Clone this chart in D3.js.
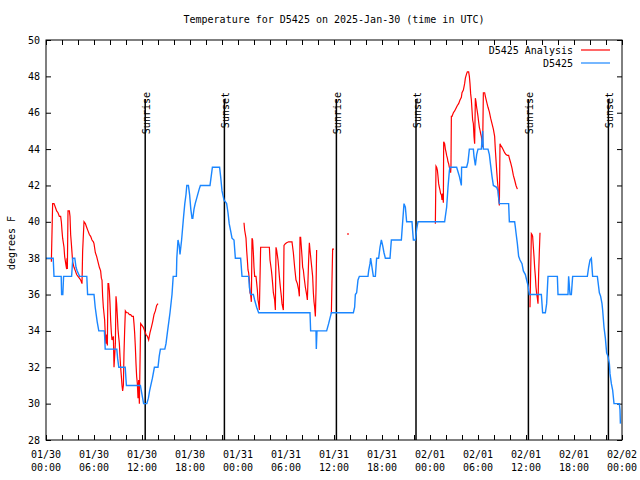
<!DOCTYPE html>
<html><head><meta charset="utf-8">
<script src="https://cdn.jsdelivr.net/npm/d3@7"></script>
<style>
html,body{margin:0;padding:0;background:#fff;}
svg{display:block;}
text{font-family:"DejaVu Sans Mono","Liberation Mono",monospace;font-size:10px;fill:#000;}
</style></head>
<body>
<svg id="chart" width="640" height="480"></svg>
<script>
// ---------- DATA ----------
const chartTitle = "Temperature for D5425 on 2025-Jan-30 (time in UTC)";
const yLabel = "degrees F";
const seriesNames = ["D5425 Analysis", "D5425"];
const yTicks = [28,30,32,34,36,38,40,42,44,46,48,50];
// hours since 2025-01-30 00:00 UTC
const sunHours  = [12.4, 22.3, 36.3, 46.25, 60.3, 70.3];
const sunLabels = ["Sunrise","Sunset","Sunrise","Sunset","Sunrise","Sunset"];

// observed D5425 (blue)
const obsHours = [0,0.9,1.0,1.9,1.95,2.1,2.2,3.2,3.35,3.6,3.75,3.9,4.2,5.1,5.2,6.0,6.15,6.4,6.6,7.3,7.4,8.85,8.95,9.1,9.9,10.05,11.8,12.0,12.2,12.6,12.8,12.95,13.1,13.3,13.55,14.0,14.15,14.3,14.85,15.0,15.2,15.35,15.5,15.75,15.9,16.3,16.35,16.5,16.65,16.75,16.95,17.2,17.35,17.5,17.6,17.8,17.95,18.1,18.25,18.35,18.5,18.65,18.9,19.15,19.3,20.5,20.65,20.8,21.7,21.85,22.0,22.25,22.58,22.75,22.9,23.08,23.25,23.5,23.67,24.33,24.5,25.33,25.42,25.58,25.92,26.08,26.33,26.58,33.0,33.08,33.75,33.79,33.87,35.08,35.33,35.5,35.67,38.42,38.58,38.67,38.83,39.0,39.17,40.25,40.33,40.5,40.58,40.75,40.92,41.17,41.25,41.33,41.58,41.75,41.92,42.08,42.25,42.42,43.0,43.17,44.42,44.5,44.75,44.92,45.08,45.75,45.83,45.92,46.17,46.25,46.33,46.5,49.83,49.92,50.08,50.25,50.42,50.5,51.33,51.5,51.67,51.92,51.95,52.58,52.75,52.92,53.42,53.5,53.67,53.83,54.0,54.42,54.5,54.58,54.67,55.25,55.42,55.58,55.75,55.92,56.33,56.5,56.58,56.67,57.83,57.92,58.58,58.67,58.75,58.92,59.08,59.25,59.5,59.67,59.92,60.08,60.25,60.42,61.92,62.08,62.42,62.58,62.75,63.92,64.0,65.25,65.33,65.5,65.67,65.83,67.67,67.83,68.0,68.17,68.33,68.92,69.17,69.33,69.5,69.58,69.75,69.92,70.08,70.25,70.42,70.5,70.67,70.83,71.0,71.67,71.75,71.8];
const obsTemps = [38,38,37,37,36,36,37,37,38,38,37.5,37.3,37,37,36,36,35.3,34.5,34,34,33,33,32.5,32,32,31,31,30.5,30,30,30.3,30.7,31,31.4,32,32,32.6,33,33,33.3,34,34.5,35,36,37,37,38,39,38.7,38.2,39,40.3,41,41.5,42,42,41.5,40.7,40.2,40.2,40.7,41,41.4,41.8,42,42,42.5,43,43,42.4,41.7,41.2,41,40.5,39.9,39.5,39.1,39,38,38,37,37,36.4,36,36,35.7,35.3,35,35,34,34,33,34,34,34.4,34.7,35,35,35.3,36,36.1,36.8,37,37,37.3,37.7,38,37.5,37,37,37.5,38,38,38.6,39,38.7,38.3,38,38,39,39,39.5,41,40.8,40,40,39.5,39,39,39.3,39.6,40,40,40.3,40.8,41.9,42.8,43,43,42.75,42.5,42,43,43,43.3,44,44,43.6,43.1,43.7,44,44,44.5,45,44,44,43.7,43.1,42.5,42,41.9,41.7,41.3,41,41,40,40,39.7,39.4,38.8,38.1,37.9,37.7,37.3,37.1,36.8,36.5,36,36,35,35,35.5,37,37,36,36,37,36,36,37,37,37.5,37.9,38,37,37,36.1,35.9,35.5,35.15,34.2,33.6,32.8,32.6,32.2,31.65,31.1,30.75,30,30,29.65,28.9];

// analysis D5425 (red); null = gap
const anaHours = [0.67,0.75,0.83,1.0,1.17,1.33,1.5,1.67,1.83,1.92,2.0,2.08,2.25,2.33,2.5,2.58,2.62,2.67,2.75,2.92,3.0,3.08,3.17,3.25,3.33,3.5,3.67,3.83,4.0,4.17,4.33,4.42,4.5,4.58,4.75,4.92,5.08,5.25,5.42,5.58,5.75,5.92,6.0,6.17,6.33,6.5,6.67,6.83,6.92,7.0,7.08,7.17,7.33,7.42,7.5,7.58,7.67,7.75,7.83,7.92,8.0,8.08,8.17,8.25,8.42,8.5,8.58,8.67,8.75,8.83,8.92,9.0,9.08,9.17,9.25,9.33,9.42,9.5,9.58,9.67,9.75,9.83,9.92,10.08,10.25,10.42,10.58,10.75,10.92,11.0,11.08,11.17,11.25,11.33,11.42,11.5,11.58,11.67,11.75,11.83,12.0,12.17,12.33,12.5,12.67,12.83,13.0,13.17,13.33,13.5,13.67,13.83,14.0,
  null,
  24.75,24.83,25.0,25.08,25.17,25.25,25.33,25.42,25.5,25.58,25.67,25.75,25.83,25.92,26.0,26.08,26.17,26.25,26.42,26.5,26.58,26.67,26.75,26.83,27.92,28.0,28.17,28.25,28.33,28.42,28.58,28.67,28.75,28.83,29.0,29.08,29.17,29.25,29.33,29.42,29.5,29.67,29.75,29.92,30.08,30.33,30.75,30.92,31.08,31.25,31.42,31.58,31.67,31.75,31.83,31.92,32.0,32.08,32.17,32.25,32.42,32.58,32.67,32.75,32.83,32.92,33.0,33.17,33.33,33.42,33.5,33.58,33.67,33.75,33.83,
  null,
  35.67,35.75,35.83,36.0,
  null,
  37.75,
  null,
  48.67,48.75,48.83,48.92,49.0,49.08,49.17,49.25,49.33,49.42,49.5,49.58,49.67,49.71,49.83,49.92,50.0,50.08,50.17,50.25,50.33,50.42,50.5,50.58,50.62,50.67,50.75,50.92,51.08,51.25,51.42,51.58,51.75,51.92,52.0,52.17,52.33,52.42,52.58,52.67,52.83,52.92,53.0,53.08,53.17,53.25,53.33,53.42,53.5,53.58,53.67,53.75,53.83,53.92,54.0,54.08,54.17,54.25,54.33,54.42,54.5,54.58,54.67,54.83,54.92,55.08,55.25,55.42,55.58,55.75,55.92,56.08,56.17,56.25,56.33,56.42,56.5,56.58,56.67,56.75,56.83,57.0,57.17,57.33,57.5,57.67,57.83,57.92,58.08,58.25,58.42,58.58,58.75,58.92,
  null,
  60.5,60.58,60.67,60.75,60.83,60.92,61.0,61.08,61.17,61.25,61.33,61.42,61.5,61.58,61.67,61.75];
const anaTemps = [37.8,39.4,41.0,41.0,40.8,40.6,40.5,40.3,40.3,40.0,39.5,39.1,38.6,38.1,37.6,37.4,38.0,37.4,40.6,40.6,40.3,39.3,38.8,38.3,37.8,37.5,37.3,37.1,37.0,36.9,36.8,36.7,36.6,38.4,40.0,39.9,39.7,39.5,39.3,39.2,39.0,38.9,38.8,38.3,38.1,37.8,37.5,37.3,36.9,36.8,35.9,35.3,34.6,33.7,33.3,33.8,33.2,36.6,36.6,36.2,35.5,34.6,33.9,33.5,33.7,32.0,32.6,33.3,35.9,35.5,34.8,34.1,33.7,33.3,32.6,32.0,31.5,31.0,30.7,31.0,32.8,34.0,35.1,35.0,35.0,34.9,34.9,34.8,34.8,34.4,33.9,33.1,32.2,31.5,31.1,30.3,31.3,30.0,32.2,34.4,34.3,34.2,34.0,33.8,33.7,33.5,33.9,34.2,34.5,34.9,35.1,35.4,35.5,
  null,
  39.95,39.55,39.1,38.45,37.9,37.35,37.2,36.8,36.1,36.0,35.6,39.1,39.0,38.3,37.5,37.0,37.0,37.0,36.25,35.7,35.5,35.15,36.9,38.6,38.6,37.9,37.35,37.0,36.6,36.1,35.7,35.15,38.6,38.45,37.9,37.5,37.0,36.6,36.25,35.9,35.5,35.15,38.7,38.8,38.85,38.9,38.9,38.3,37.5,36.8,36.6,36.25,35.9,39.15,39.15,38.6,38.1,37.5,37.35,37.0,36.4,36.0,35.7,36.8,37.9,38.85,38.45,37.7,37.0,36.1,35.6,35.3,34.8,36.25,38.45,
  null,
  34.96,36.8,38.5,38.5,
  null,
  39.33,
  null,
  39.9,43.06,43.0,42.85,42.5,42.1,41.9,41.75,41.55,41.5,41.2,41.55,41.05,44.4,44.3,44.0,43.85,43.65,43.5,43.3,43.2,43.0,42.9,42.7,43.0,45.8,45.8,46.0,46.1,46.25,46.4,46.5,46.7,46.85,47.1,47.25,47.6,47.9,48.15,48.25,48.25,48.0,47.6,47.05,46.7,46.15,45.6,45.4,44.7,44.3,46.8,46.6,46.3,46.05,45.8,45.5,45.2,45.05,44.85,44.7,44.4,44.1,47.1,47.1,46.9,46.6,46.3,46.05,45.7,45.4,45.1,44.7,43.95,43.4,42.85,42.3,41.9,41.3,40.9,44.3,44.2,44.1,43.95,43.8,43.7,43.65,43.65,43.5,43.25,42.95,42.55,42.3,42.0,41.8,
  null,
  35.3,37.15,39.35,39.3,39.2,38.6,38.1,37.5,37.0,36.4,36.05,35.8,35.5,37.15,38.4,39.4];

// ---------- CHART ----------
const W = 640, H = 480;
const m = {left:46, right:18, top:40, bottom:40};
const t0 = Date.UTC(2025,0,30,0,0);
const toDate = h => new Date(t0 + h*3600e3);
const svg = d3.select("#chart");
const x = d3.scaleUtc().domain([toDate(0), toDate(72)]).range([m.left, W-m.right]);
const y = d3.scaleLinear().domain([28,50]).range([H-m.bottom, m.top]);

const BLUE = "#1a86ff", RED = "#ff0000";

// title
svg.append("text").attr("x",(m.left+W-m.right)/2).attr("y",23)
  .attr("text-anchor","middle").text(chartTitle);

// y label
svg.append("text").attr("transform","translate(15,243) rotate(-90)")
  .attr("text-anchor","middle").text(yLabel);

// axes ticks (inward)
const tickHours = d3.utcHour.every(2).range(toDate(0), toDate(72.01));
svg.append("g").attr("transform",`translate(0,${H-m.bottom})`)
  .call(d3.axisBottom(x).tickValues(tickHours).tickSize(-5).tickFormat(""))
  .call(g=>g.select(".domain").remove());
svg.append("g").attr("transform",`translate(0,${m.top})`)
  .call(d3.axisTop(x).tickValues(tickHours).tickSize(-5).tickFormat(""))
  .call(g=>g.select(".domain").remove());
svg.append("g").attr("transform",`translate(${m.left},0)`)
  .call(d3.axisLeft(y).tickValues(yTicks).tickSize(-5).tickFormat(""))
  .call(g=>g.select(".domain").remove());
svg.append("g").attr("transform",`translate(${W-m.right},0)`)
  .call(d3.axisRight(y).tickValues(yTicks).tickSize(-5).tickFormat(""))
  .call(g=>g.select(".domain").remove());
svg.selectAll(".tick line").attr("stroke","#000");

// y tick labels
svg.append("g").selectAll("text").data(yTicks).join("text")
  .attr("x", m.left-6).attr("y", d=>y(d)).attr("dy","0.35em")
  .attr("text-anchor","end").text(d=>d);

// x tick labels (every 6 hours, two lines)
const labelHours = d3.utcHour.every(6).range(toDate(0), toDate(72.01));
const fmtD = d3.utcFormat("%m/%d"), fmtT = d3.utcFormat("%H:%M");
const xl = svg.append("g").selectAll("text").data(labelHours).join("text")
  .attr("text-anchor","middle");
xl.append("tspan").attr("x", d=>x(d)).attr("y", 458).text(d=>fmtD(d));
xl.append("tspan").attr("x", d=>x(d)).attr("y", 471).text(d=>fmtT(d));

// sunrise / sunset lines
const sun = svg.append("g");
sunHours.forEach((h,i)=>{
  const sx = x(toDate(h));
  sun.append("line").attr("x1",sx).attr("x2",sx).attr("y1",99).attr("y2",H-m.bottom)
    .attr("stroke","#000").attr("stroke-width",1.5);
  sun.append("text").attr("transform",`translate(${sx+5},92) rotate(-90)`)
    .attr("text-anchor","end").text(sunLabels[i]);
});

// series
const clip = svg.append("clipPath").attr("id","clip").append("rect")
  .attr("x",m.left).attr("y",m.top).attr("width",W-m.left-m.right).attr("height",H-m.top-m.bottom);

const obs = obsHours.map((h,i)=>({d:toDate(h), v:obsTemps[i]}));
const ana = anaHours.map((h,i)=>({d: h==null?null:toDate(h), v: anaTemps[i]}));

const line = d3.line().defined(p=>p.d!=null && p.v!=null).x(p=>x(p.d)).y(p=>y(p.v));
const plot = svg.append("g").attr("clip-path","url(#clip)");
plot.append("path").attr("d", line(ana)).attr("fill","none").attr("stroke",RED).attr("stroke-width",1.2);
// isolated analysis points
ana.forEach((p,i)=>{
  if(p.d==null) return;
  const prev = ana[i-1], next = ana[i+1];
  if((!prev || prev.d==null) && (!next || next.d==null)){
    plot.append("rect").attr("x",x(p.d)-0.75).attr("y",y(p.v)-0.75).attr("width",1.5).attr("height",1.5).attr("fill",RED);
  }
});
plot.append("path").attr("d", line(obs)).attr("fill","none").attr("stroke",BLUE).attr("stroke-width",1.4);

// frame
svg.append("rect").attr("x",m.left).attr("y",m.top).attr("width",W-m.left-m.right).attr("height",H-m.top-m.bottom)
  .attr("fill","none").attr("stroke","#000").attr("stroke-width",1);

// legend
const legColors = [RED, BLUE];
const leg = svg.append("g");
seriesNames.forEach((n,i)=>{
  const ly = 50 + i*13;
  leg.append("text").attr("x",573).attr("y",ly).attr("dy","0.35em").attr("text-anchor","end").text(n);
  leg.append("line").attr("x1",581).attr("x2",610).attr("y1",ly).attr("y2",ly)
    .attr("stroke",legColors[i]).attr("stroke-width",1.2);
});
</script>
</body></html>
